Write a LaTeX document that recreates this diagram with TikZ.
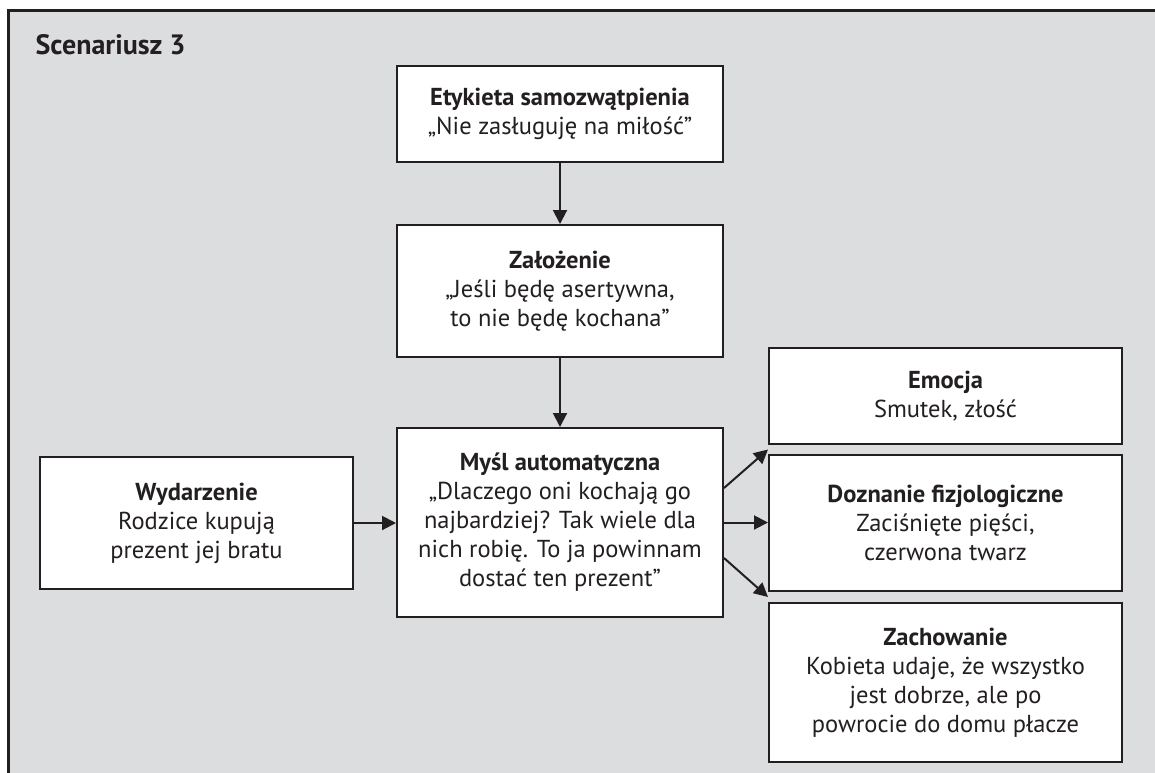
\documentclass[tikz,border=0pt]{standalone}
\usepackage{fontspec}
\setmainfont{PT Sans}
\usetikzlibrary{arrows.meta,calc}
\definecolor{bg}{HTML}{DCDDDF}
\definecolor{ink}{HTML}{231F20}
\begin{document}
\begin{tikzpicture}[x=1pt,y=-1pt,
  box/.style={draw=ink,line width=2pt,fill=white,rectangle,align=center,
    inner sep=0pt,font=\fontsize{24.5}{29}\selectfont,text=ink},
  conn/.style={draw=ink,line width=2pt,-{Triangle[length=14pt,width=14pt]}}]
\useasboundingbox (0,0) rectangle (1155,772);
\clip (0,0) rectangle (1155,772);
\fill[white] (0,0) rectangle (1155,772);
\draw[ink,line width=3pt,fill=bg] (8,10) rectangle (1175,800);
\node[anchor=base west,font=\fontsize{28}{32}\selectfont\bfseries,text=ink] (title) at (32,54) {Scenariusz 3};
\node[box,minimum width=326pt,minimum height=96pt] (ety) at (560,114)
  {\textbf{Etykieta samozwątpienia}\\„Nie zasługuję na miłość”};
\node[box,minimum width=326pt,minimum height=132pt] (zal) at (560,291)
  {\textbf{Założenie}\\„Jeśli będę asertywna,\\to nie będę kochana”};
\node[box,minimum width=326pt,minimum height=189pt] (mys) at (560,522.5)
  {\textbf{Myśl automatyczna}\\„Dlaczego oni kochają go\\najbardziej? Tak wiele dla\\nich robię. To ja powinnam\\dostać ten prezent”};
\node[box,minimum width=313pt,minimum height=132pt] (wyd) at (196.5,523)
  {\textbf{Wydarzenie}\\Rodzice kupują\\prezent jej bratu};
\node[box,minimum width=353pt,minimum height=96pt] (emo) at (945.5,396)
  {\textbf{Emocja}\\Smutek, złość};
\node[box,minimum width=353pt,minimum height=136pt] (doz) at (945.5,523)
  {\textbf{Doznanie fizjologiczne}\\Zaciśnięte pięści,\\czerwona twarz};
\node[box,minimum width=353pt,minimum height=159pt] (zac) at (945.5,682.5)
  {\textbf{Zachowanie}\\Kobieta udaje, że wszystko\\jest dobrze, ale po\\powrocie do domu płacze};
\coordinate (t1) at ($(emo.south west)!0.5!(doz.north west)$);
\coordinate (t2) at ($(doz.south west)!0.5!(zac.north west)$);
\draw[conn] (ety) -- (zal);
\draw[conn] (zal) -- (mys);
\draw[conn] (wyd.east) -- (wyd.east -| mys.west);
\draw[conn] (mys.east) -- (mys.east -| doz.west);
\draw[conn] ([yshift=34.5pt]mys.east) -- (t1);
\draw[conn] ([yshift=-35.5pt]mys.east) -- (t2);
\end{tikzpicture}
\end{document}
